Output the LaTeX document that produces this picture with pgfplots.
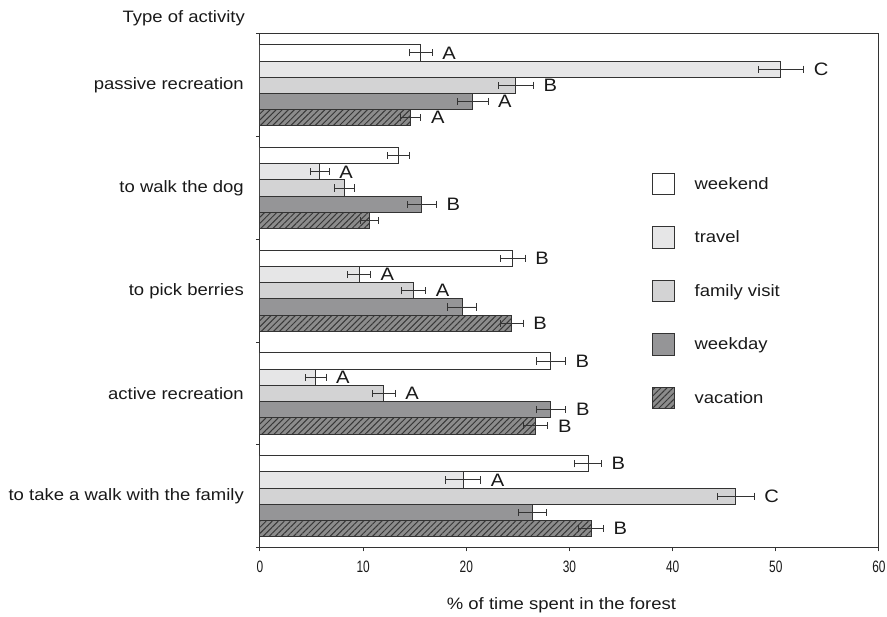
\documentclass[border=0pt]{standalone}
\usepackage{fontspec}
\setmainfont{Liberation Sans}
\newfontfamily\widesans{Liberation Sans}[FakeStretch=1.12]
\newfontfamily\narrowsans{Liberation Sans}[FakeStretch=0.72]
\usepackage{pgfplots}
\usepackage{pgfplotstable}
\pgfplotsset{compat=1.18}
\usetikzlibrary{patterns.meta}

\definecolor{edge}{HTML}{333333}
\definecolor{travelc}{HTML}{E6E6E7}
\definecolor{familyc}{HTML}{D3D3D4}
\definecolor{weekdayc}{HTML}{959597}
\definecolor{vacc}{HTML}{8C8C8C}
\definecolor{hatchc}{HTML}{383838}

% c: category position (4 = top), v: mean share, e: error, l: group letter
\pgfplotstableread{
c v    e    l
4 15.6 1.10 A
3 13.4 1.05 {}
2 24.5 1.20 B
1 28.2 1.40 B
0 31.8 1.30 B
}\weekend
\pgfplotstableread{
c v    e    l
4 50.5 2.20 C
3 5.8  0.90 A
2 9.6  1.10 A
1 5.4  1.00 A
0 19.7 1.70 A
}\travel
\pgfplotstableread{
c v    e    l
4 24.8 1.70 B
3 8.2  1.00 {}
2 14.9 1.15 A
1 12.0 1.10 A
0 46.1 1.80 C
}\family
\pgfplotstableread{
c v    e    l
4 20.6 1.50 A
3 15.7 1.40 B
2 19.6 1.40 {}
1 28.2 1.45 B
0 26.4 1.35 {}
}\weekday
\pgfplotstableread{
c v    e    l
4 14.6 1.00 A
3 10.6 0.90 {}
2 24.4 1.10 B
1 26.7 1.20 B
0 32.1 1.20 B
}\vacation

\newcommand\txt{\widesans\fontsize{16.5}{19}\selectfont}
\newcommand\lettxt{\widesans\fontsize{18}{20}\selectfont}

% bar plus its error bar
\newcommand\barplot[3]{%
  \addplot[xbar, bar shift=#2, draw=edge, line width=1pt, #3,
    error bars/.cd, x dir=both, x explicit, error mark=|,
    error bar style={line width=0.9pt, draw=edge},
    error mark options={line width=0.9pt, draw=edge, mark size=3.6pt}]
    table[x=v, y=c, x error=e] {#1};}
% group letters just past the error bar end
\newcommand\letters[2]{%
  \addplot[xbar, bar shift=#2, draw=none, fill=none, forget plot,
    nodes near coords, point meta=explicit symbolic,
    every node near coord/.append style={anchor=west, inner sep=0pt,
      xshift=10pt, font=\lettxt, text=black!90}]
    table[x expr=\thisrow{v}+\thisrow{e}, y=c, meta=l] {#1};}

\begin{document}
\begin{tikzpicture}
\useasboundingbox (-260pt,-69.5pt) rectangle (627pt,547.5pt);
\begin{axis}[
  name=ax,
  scale only axis,
  width=619pt, height=513.5pt,
  xbar, bar width=0.158,
  xmin=0, xmax=60,
  ymin=-0.5, ymax=4.5,
  xtick={0,10,...,60},
  xtick pos=lower, ytick pos=left,
  tick align=outside,
  major tick length=4pt,
  axis line style={draw=edge, line width=1pt},
  tick style={draw=edge, line width=1pt},
  /pgf/number format/assume math mode=true,
  xticklabel style={font=\narrowsans\fontsize{16.5}{18}\selectfont, text=black!90, anchor=base, inner sep=0pt, yshift=-21pt},
  ytick={0,...,4},
  yticklabels={to take a walk with the family, active recreation, to pick berries, to walk the dog, passive recreation},
  yticklabel style={font=\txt, text=black!90, anchor=east, inner sep=0pt, xshift=-12pt},
  ytick style={draw=none},
  extra y ticks={-0.5,0.5,...,4.5},
  extra y tick labels={},
  extra y tick style={ytick style={draw=edge, line width=1pt}},
  xlabel={\% of time spent in the forest},
  xlabel style={font=\txt, text=black!90, at={(rel axis cs:0.487,0)}, anchor=base, yshift=-62.5pt, inner sep=0pt},
  legend cell align=left,
  legend image code/.code={\draw[#1] (0pt,-10.8pt) rectangle (21.6pt,10.8pt);},
  legend style={draw=none, fill=none, at={(rel axis cs:0.633,0.7305)}, anchor=north west,
    inner sep=0pt, row sep=30.9pt,
    nodes={inner sep=0pt, font=\txt, text=black!90},
    /tikz/every odd column/.append style={column sep=20pt}},
]
\barplot{\weekend}{0.316}{fill=white}
\barplot{\travel}{0.158}{fill=travelc}
\barplot{\family}{0}{fill=familyc}
\barplot{\weekday}{-0.158}{fill=weekdayc}
\barplot{\vacation}{-0.316}{fill=vacc, postaction={pattern={Lines[angle=45,distance=4.3pt,line width=1pt]}, pattern color=hatchc}}
\legend{weekend, travel, family visit, weekday, vacation}
\letters{\weekend}{0.316}
\letters{\travel}{0.158}
\letters{\family}{0}
\letters{\weekday}{-0.158}
\letters{\vacation}{-0.316}
\end{axis}
\node[font=\txt, text=black!90, anchor=base east, inner sep=0pt] at ([xshift=-15pt, yshift=11pt]ax.north west) {Type of activity};
\end{tikzpicture}
\end{document}
